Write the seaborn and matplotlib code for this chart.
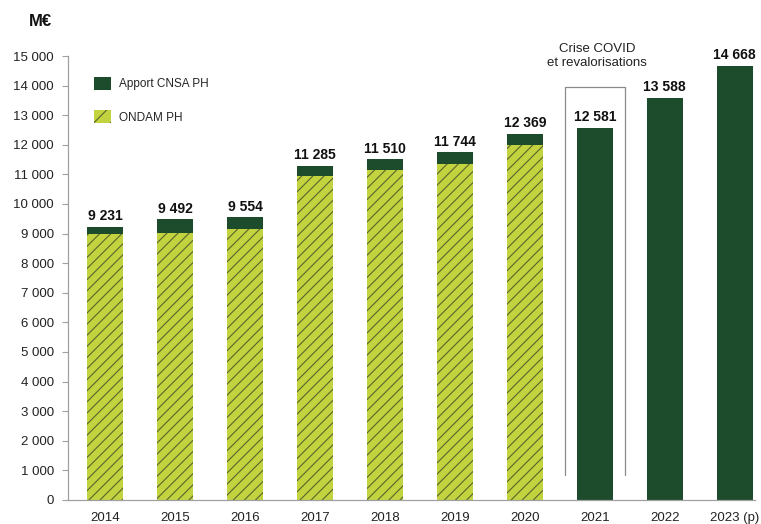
import matplotlib
matplotlib.use("Agg")
import matplotlib.pyplot as plt
import matplotlib.patches as mpatches
import seaborn as sns
import pandas as pd

years = ["2014", "2015", "2016", "2017", "2018", "2019", "2020", "2021", "2022", "2023 (p)"]
totals = [9231, 9492, 9554, 11285, 11510, 11744, 12369, 12581, 13588, 14668]
ondam_years = ["2014", "2015", "2016", "2017", "2018", "2019", "2020"]
ondam = [8975, 9030, 9140, 10935, 11160, 11350, 12005]
yticks = list(range(0, 15001, 1000))

dark = "#1c4c2c"
light = "#c3d340"
hatch_col = "#56652a"

sns.set_style("white")
plt.rcParams["font.family"] = ["Liberation Sans", "DejaVu Sans"]
plt.rcParams["hatch.linewidth"] = 0.8

fig = plt.figure(figsize=(7.61, 5.24), dpi=100)
ax = fig.add_axes([68 / 761, 24 / 524, 687 / 761, 444 / 524])

df_tot = pd.DataFrame({"year": years, "value": totals})
df_ond = pd.DataFrame({"year": ondam_years, "value": ondam})

sns.barplot(data=df_tot, x="year", y="value", order=years, color=dark,
            saturation=1, width=0.52, linewidth=0, ax=ax)
sns.barplot(data=df_ond, x="year", y="value", order=years, color=light,
            saturation=1, width=0.52, linewidth=0, edgecolor=hatch_col,
            hatch="///", ax=ax)

ax.set_xlim(-0.53, 9.29)
ax.set_ylim(0, 15000)
ax.set_yticks(yticks)
ax.set_yticklabels([f"{v:,}".replace(",", " ") for v in yticks])
ax.set_xlabel("")
ax.set_ylabel("")

for s in ["top", "right"]:
    ax.spines[s].set_visible(False)
for s in ["left", "bottom"]:
    ax.spines[s].set_color("#a0a0a0")
    ax.spines[s].set_linewidth(0.9)
ax.tick_params(axis="y", left=True, length=4, color="#a0a0a0", labelsize=9.5,
               labelcolor="#222222", pad=6)
ax.tick_params(axis="x", bottom=False, labelsize=9.5, labelcolor="#222222", pad=5)

for i, v in enumerate(totals):
    ax.annotate(f"{v:,}".replace(",", " "), (i, v), xytext=(0, 2.5),
                textcoords="offset points", ha="center", va="bottom",
                fontsize=10, fontweight="bold", color="#111111",
                annotation_clip=False)

# COVID box
ax.plot([6.57, 6.57, 7.43, 7.43], [845, 13953, 13953, 845], color="#8a8a8a",
        lw=0.9, clip_on=False)
ax.text(7.03, 15000, "Crise COVID\net revalorisations", ha="center", va="center",
        fontsize=9.5, color="#222222", linespacing=1.25, clip_on=False)

fig.text(29 / 761, 1 - 21 / 524, "M€", fontsize=12, fontweight="bold",
         va="center", ha="left", color="#111111")

handles = [mpatches.Patch(facecolor=dark, edgecolor=dark, linewidth=0),
           mpatches.Patch(facecolor=light, edgecolor=hatch_col, linewidth=0, hatch="//")]
fig.legend(handles, ["Apport CNSA PH", "ONDAM PH"], loc="upper left",
           bbox_to_anchor=(94 / 761, 1 - 77 / 524), frameon=False, fontsize=8.5,
           handlelength=1.4, handleheight=1.3, labelspacing=1.7, handletextpad=0.7,
           borderpad=0, borderaxespad=0)

fig.savefig("out.png", dpi=100)
